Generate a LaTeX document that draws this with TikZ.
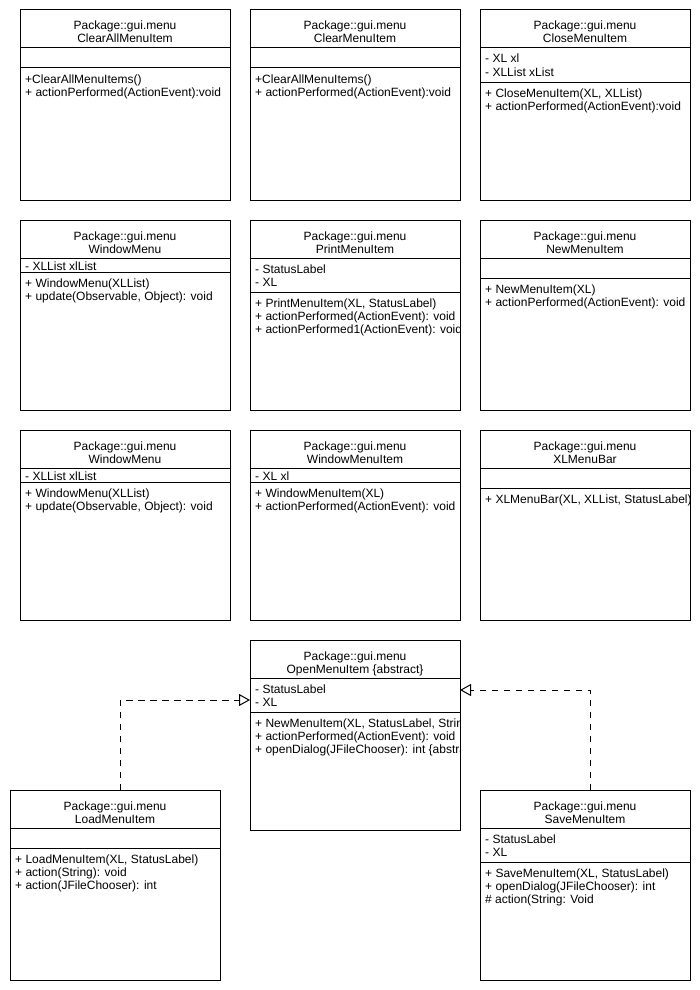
\documentclass[tikz,border=0pt]{standalone}
\usepackage{fontspec}
\setmainfont{Liberation Sans}
\usetikzlibrary{arrows.meta}

\tikzset{
  classbox/.style={draw, line width=1pt, minimum width=210pt, minimum height=190pt,
    anchor=north west, inner sep=0pt, outer sep=0pt},
  rule/.style={line width=1pt},
  titletext/.style={anchor=base, inner sep=0pt, font=\fontsize{12}{13.3}\selectfont},
  membertext/.style={anchor=base west, inner sep=0pt, font=\fontsize{12}{13.3}\selectfont},
  realize/.style={line width=1pt, dash pattern=on 6.5pt off 5.5pt,
    -{Triangle[open, length=11pt, width=12pt, line width=1pt]}},
}

% #1 name, #2 left, #3 top, #4 class name, #5 attribute compartment height,
% #6 attribute lines, #7 operation lines
\newcommand\umlclass[7]{%
  \node[classbox] (#1) at (#2,#3) {};
  \draw[rule] ([yshift=-38pt]#1.north west) -- ([yshift=-38pt]#1.north east);
  \draw[rule] ([yshift=-38pt-#5pt]#1.north west) -- ([yshift=-38pt-#5pt]#1.north east);
  \node[titletext] (#1-pkg) at ([yshift=-20pt]#1.north) {Package::gui.menu};
  \node[titletext] (#1-name) at ([yshift=-33pt]#1.north) {#4};
  \begin{scope}
    \clip (#1.north west) rectangle (#1.south east);
    \if\relax\detokenize{#6}\relax\else
      \foreach \t [count=\i] in {#6} {
        \node[membertext] (#1-a\i) at ([xshift=5pt, yshift={-38pt-min(15pt,#5pt-2pt)-13.3pt*(\i-1)}]#1.north west) {\t};
      }
    \fi
    \foreach \t [count=\i] in {#7} {
      \node[membertext] (#1-o\i) at ([xshift=5pt, yshift={-38pt-#5pt-15pt-13.3pt*(\i-1)}]#1.north west) {\t};
    }
  \end{scope}
}

\begin{document}
\begin{tikzpicture}[x=1pt, y=1pt]
  \useasboundingbox (0,0) rectangle (700,-990);

  % first row
  \umlclass{clearall}{20}{-10}{ClearAllMenuItem}{20}{}
    {{+ClearAllMenuItems()}, {+ actionPerformed(ActionEvent):void}}
  \umlclass{clear}{250}{-10}{ClearMenuItem}{20}{}
    {{+ClearAllMenuItems()}, {+ actionPerformed(ActionEvent):void}}
  \umlclass{close}{480}{-10}{CloseMenuItem}{34}
    {{- XL xl}, {- XLList xList}}
    {{+ CloseMenuItem(XL, XLList)}, {+ actionPerformed(ActionEvent):void}}

  % second row
  \umlclass{windowa}{20}{-220}{WindowMenu}{14.5}
    {{- XLList xlList}}
    {{+ WindowMenu(XLList)}, {+ update(Observable, Object): void}}
  \umlclass{print}{250}{-220}{PrintMenuItem}{34}
    {{- StatusLabel}, {- XL}}
    {{+ PrintMenuItem(XL, StatusLabel)}, {+ actionPerformed(ActionEvent): void}, {+ actionPerformed1(ActionEvent): void}}
  \umlclass{new}{480}{-220}{NewMenuItem}{20}{}
    {{+ NewMenuItem(XL)}, {+ actionPerformed(ActionEvent): void}}

  % third row
  \umlclass{windowb}{20}{-430}{WindowMenu}{14.5}
    {{- XLList xlList}}
    {{+ WindowMenu(XLList)}, {+ update(Observable, Object): void}}
  \umlclass{windowitem}{250}{-430}{WindowMenuItem}{14.5}
    {{- XL xl}}
    {{+ WindowMenuItem(XL)}, {+ actionPerformed(ActionEvent): void}}
  \umlclass{menubar}{480}{-430}{XLMenuBar}{20}{}
    {{+ XLMenuBar(XL, XLList, StatusLabel)}}

  % abstract open item and its two realizations
  \umlclass{open}{250}{-640}{OpenMenuItem \{abstract\}}{34}
    {{- StatusLabel}, {- XL}}
    {{+ NewMenuItem(XL, StatusLabel, String)}, {+ actionPerformed(ActionEvent): void}, {+ openDialog(JFileChooser): int \{abstract\}}}
  \umlclass{load}{10}{-790}{LoadMenuItem}{20}{}
    {{+ LoadMenuItem(XL, StatusLabel)}, {+ action(String): void}, {+ action(JFileChooser): int}}
  \umlclass{save}{480}{-790}{SaveMenuItem}{34}
    {{- StatusLabel}, {- XL}}
    {{+ SaveMenuItem(XL, StatusLabel)}, {+ openDialog(JFileChooser): int}, {\# action(String: Void}}

  \draw[realize] ([xshift=5pt]load.north) |- ([yshift=-60pt]open.north west);
  \draw[realize] ([xshift=5pt]save.north) |- ([yshift=-50pt]open.north east);
\end{tikzpicture}
\end{document}
